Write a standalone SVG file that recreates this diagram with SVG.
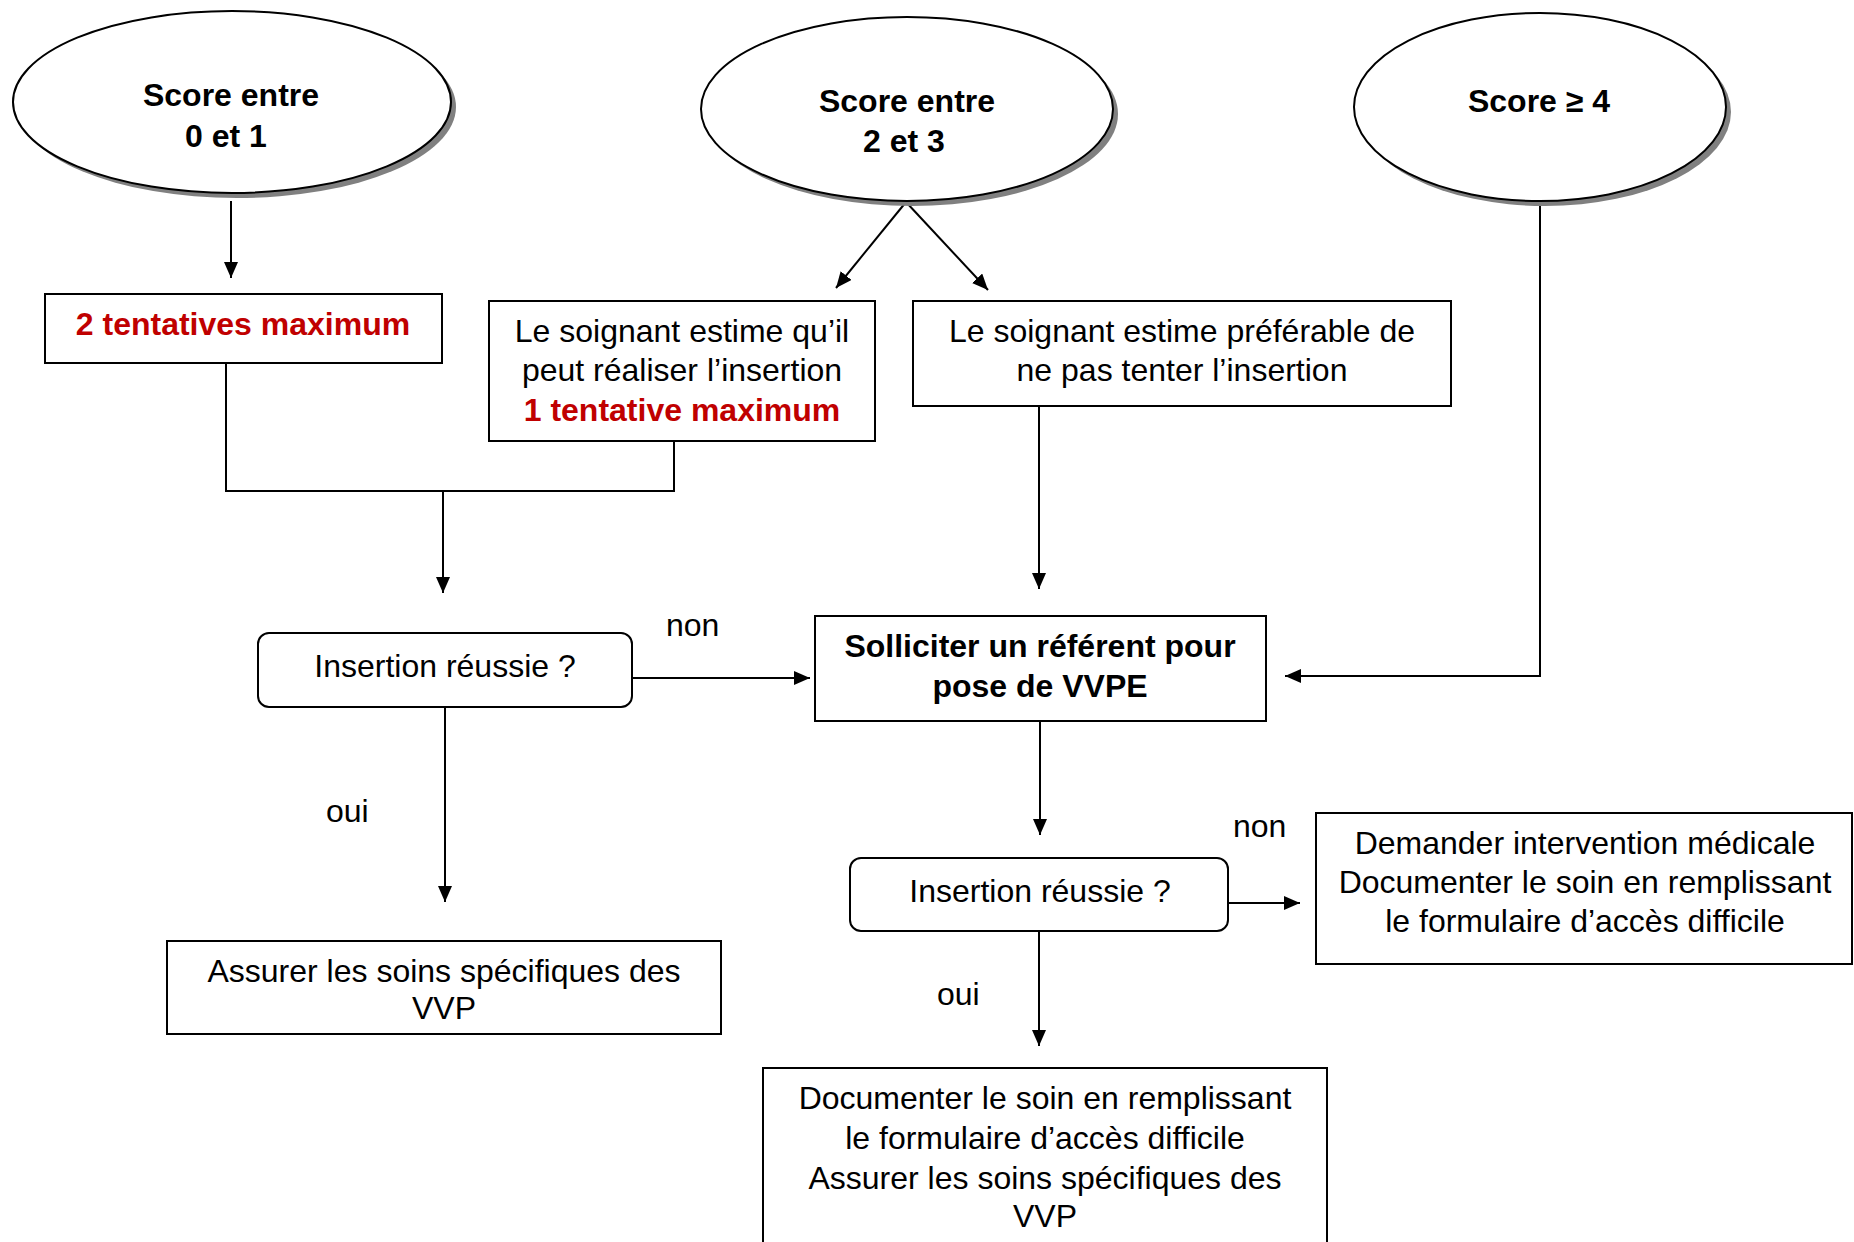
<svg xmlns="http://www.w3.org/2000/svg" width="1854" height="1242" viewBox="0 0 1854 1242">
<defs>
<style>
text{font-family:"Liberation Sans",Arial,sans-serif;font-size:32px;fill:#000}
.c{text-anchor:middle}
.b{font-weight:bold}
.red{fill:#C00000;font-weight:bold}
.box{fill:#fff;stroke:#000;stroke-width:2}
.sh{fill:#808080;stroke:none}
.ell{fill:#fff;stroke:#000;stroke-width:2}
.ln{fill:none;stroke:#000;stroke-width:2}
</style>
<marker id="ar" markerUnits="userSpaceOnUse" markerWidth="16" markerHeight="14" refX="16" refY="7" orient="auto">
<path d="M0,0 L16,7 L0,14 z" fill="#000"/>
</marker>
</defs>
<rect width="1854" height="1242" fill="#fff"/>

<g id="connectors">
<path class="ln" d="M231,201 V278" marker-end="url(#ar)"/>
<path class="ln" d="M906,202 L836,288" marker-end="url(#ar)"/>
<path class="ln" d="M906,202 L988,290" marker-end="url(#ar)"/>
<path class="ln" d="M1540,201 V676 H1285" marker-end="url(#ar)"/>
<path class="ln" d="M226,363 V491 H674 V441"/>
<path class="ln" d="M443,491 V593" marker-end="url(#ar)"/>
<path class="ln" d="M1039,406 V589" marker-end="url(#ar)"/>
<path class="ln" d="M632,678 H810" marker-end="url(#ar)"/>
<path class="ln" d="M445,707 V902" marker-end="url(#ar)"/>
<path class="ln" d="M1040,721 V835" marker-end="url(#ar)"/>
<path class="ln" d="M1228,903 H1300" marker-end="url(#ar)"/>
<path class="ln" d="M1039,931 V1046" marker-end="url(#ar)"/>
<text x="666" y="636">non</text>
<text x="326" y="822">oui</text>
<text x="1233" y="837">non</text>
<text x="937" y="1005">oui</text>
</g>

<g id="score01">
<ellipse class="sh" cx="237" cy="107" rx="219" ry="91"/>
<ellipse class="ell" cx="232" cy="102" rx="219" ry="91"/>
<text class="c b" x="231" y="106">Score entre</text>
<text class="c b" x="226" y="147">0 et 1</text>
</g>

<g id="score23">
<ellipse class="sh" cx="912" cy="114" rx="206" ry="92"/>
<ellipse class="ell" cx="907" cy="109" rx="206" ry="92"/>
<text class="c b" x="907" y="112">Score entre</text>
<text class="c b" x="904" y="152">2 et 3</text>
</g>

<g id="score4">
<ellipse class="sh" cx="1545" cy="112" rx="186" ry="94"/>
<ellipse class="ell" cx="1540" cy="107" rx="186" ry="94"/>
<text class="c b" x="1539" y="112">Score ≥ 4</text>
</g>

<g id="deux-tentatives">
<rect class="box" x="45" y="294" width="397" height="69"/>
<text class="c red" x="243" y="335">2 tentatives maximum</text>
</g>

<g id="peut-realiser">
<rect class="box" x="489" y="301" width="386" height="140"/>
<text class="c" x="682" y="342">Le soignant estime qu’il</text>
<text class="c" x="682" y="381">peut réaliser l’insertion</text>
<text class="c red" x="682" y="421">1 tentative maximum</text>
</g>

<g id="pas-tenter">
<rect class="box" x="913" y="301" width="538" height="105"/>
<text class="c" x="1182" y="342">Le soignant estime préférable de</text>
<text class="c" x="1182" y="381">ne pas tenter l’insertion</text>
</g>

<g id="insertion1">
<rect class="box" x="258" y="633" width="374" height="74" rx="11" ry="11"/>
<text class="c" x="445" y="677">Insertion réussie ?</text>
</g>

<g id="solliciter">
<rect class="box" x="815" y="616" width="451" height="105"/>
<text class="c b" x="1040" y="657">Solliciter un référent pour</text>
<text class="c b" x="1040" y="697">pose de VVPE</text>
</g>

<g id="assurer1">
<rect class="box" x="167" y="941" width="554" height="93"/>
<text class="c" x="444" y="982">Assurer les soins spécifiques des</text>
<text class="c" x="444" y="1019">VVP</text>
</g>

<g id="insertion2">
<rect class="box" x="850" y="858" width="378" height="73" rx="11" ry="11"/>
<text class="c" x="1040" y="902">Insertion réussie ?</text>
</g>

<g id="demander">
<rect class="box" x="1316" y="813" width="536" height="151"/>
<text class="c" x="1585" y="854">Demander intervention médicale</text>
<text class="c" x="1585" y="893">Documenter le soin en remplissant</text>
<text class="c" x="1585" y="932">le formulaire d’accès difficile</text>
</g>

<g id="documenter">
<rect class="box" x="763" y="1068" width="564" height="190"/>
<text class="c" x="1045" y="1109">Documenter le soin en remplissant</text>
<text class="c" x="1045" y="1149">le formulaire d’accès difficile</text>
<text class="c" x="1045" y="1189">Assurer les soins spécifiques des</text>
<text class="c" x="1045" y="1227">VVP</text>
</g>
</svg>
